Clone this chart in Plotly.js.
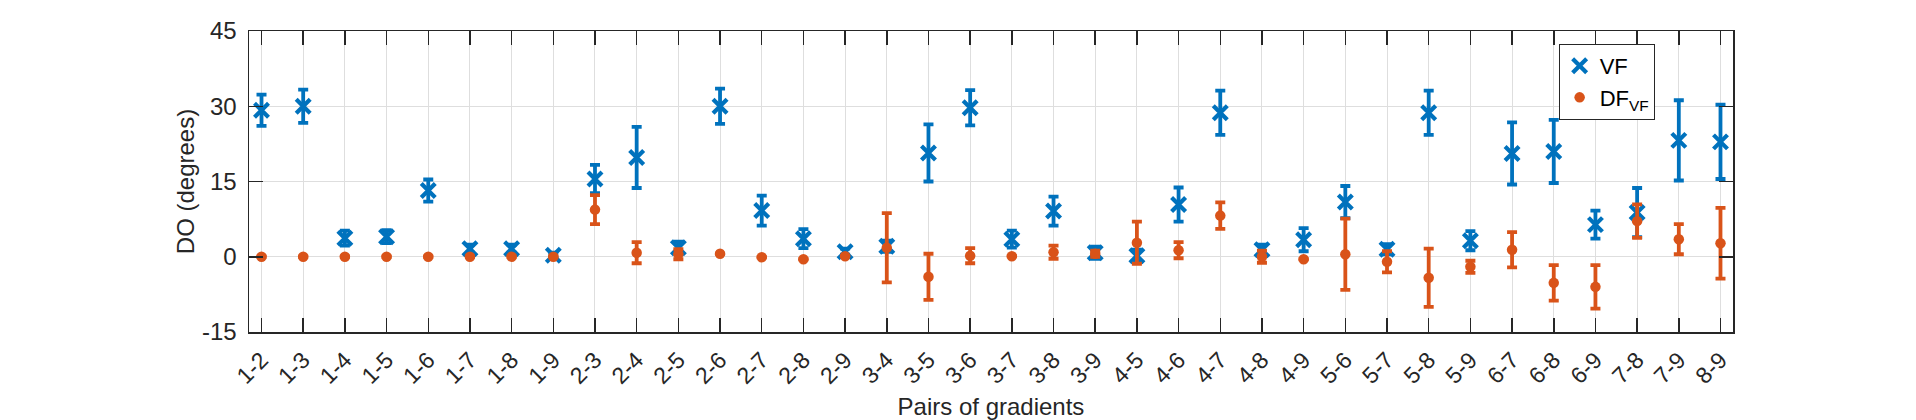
<!DOCTYPE html>
<html>
<head>
<meta charset="utf-8">
<script src="https://cdn.plot.ly/plotly-3.0.1.min.js"></script>
<style>html,body{margin:0;padding:0;background:#fff;}#chart{width:1916px;height:420px;}</style>
</head>
<body>
<div id="chart"></div>
<script>
const categories = ['1-2','1-3','1-4','1-5','1-6','1-7','1-8','1-9','2-3','2-4','2-5','2-6','2-7','2-8','2-9','3-4','3-5','3-6','3-7','3-8','3-9','4-5','4-6','4-7','4-8','4-9','5-6','5-7','5-8','5-9','6-7','6-8','6-9','7-8','7-9','8-9'];
const vfMean = [29.2, 30.0, 3.7, 4.0, 13.2, 1.6, 1.6, 0.3, 15.5, 19.8, 1.8, 30.0, 9.2, 3.6, 1.0, 2.1, 20.7, 29.7, 3.5, 9.1, 0.8, 0.2, 10.4, 28.7, 1.4, 3.4, 10.9, 1.5, 28.7, 3.2, 20.6, 21.0, 6.4, 8.8, 23.2, 22.9];
const vfErr  = [3.1, 3.3, 1.5, 1.3, 2.2, 0.8, 0.8, 0.5, 2.8, 6.1, 1.2, 3.5, 3.0, 1.9, 0.6, 1.1, 5.7, 3.5, 1.7, 2.9, 1.2, 1.2, 3.4, 4.4, 1.0, 2.3, 3.2, 1.0, 4.4, 1.9, 6.2, 6.3, 2.8, 4.9, 8.0, 7.4];
const dfMean = [0, 0, 0, 0, 0, 0, 0, 0, 9.4, 0.8, 0.5, 0.6, -0.1, -0.5, 0.1, 1.8, -4.0, 0.2, 0.1, 0.9, 0.6, 2.8, 1.3, 8.2, 0.0, -0.5, 0.5, -1.0, -4.2, -2.0, 1.4, -5.2, -6.0, 7.1, 3.5, 2.7];
const dfErr  = [0, 0, 0, 0, 0, 0, 0, 0, 2.9, 2.1, 1.0, 0, 0, 0, 0, 6.9, 4.6, 1.5, 0, 1.3, 0.6, 4.2, 1.6, 2.65, 1.2, 0, 7.1, 2.1, 5.8, 1.2, 3.5, 3.55, 4.35, 3.35, 3.0, 7.05];
const yTicks = [-15, 0, 15, 30, 45];
const seriesNames = ['VF', 'DF<sub>VF</sub>'];

const blue = '#0072BD', orange = '#D95319', axisCol = '#262626';
const FONT = 'Liberation Sans, Arial, Helvetica, sans-serif';

const traces = [
  {
    type: 'scatter', mode: 'markers', name: seriesNames[0],
    x: categories, y: vfMean,
    error_y: {type: 'data', array: vfErr, visible: true, color: blue, thickness: 3.8, width: 5},
    marker: {symbol: 'x-thin', size: 14, color: blue, line: {color: blue, width: 4.2}}
  },
  {
    type: 'scatter', mode: 'markers', name: seriesNames[1],
    x: categories, y: dfMean,
    error_y: {type: 'data', array: dfErr, visible: true, color: orange, thickness: 3.8, width: 5},
    marker: {symbol: 'circle', size: 10.5, color: orange, line: {width: 0}}
  }
];

const layout = {
  width: 1916, height: 420,
  margin: {l: 249, r: 183, t: 31, b: 88},
  paper_bgcolor: '#fff', plot_bgcolor: '#fff',
  font: {family: FONT, size: 24, color: axisCol},
  showlegend: true,
  legend: {
    x: 0.8825, y: 0.957, xanchor: 'left', yanchor: 'top',
    bgcolor: '#fff', bordercolor: axisCol, borderwidth: 1,
    font: {family: FONT, size: 22, color: '#000'},
    itemwidth: 30, tracegroupgap: 0
  },
  xaxis: {
    type: 'category', categoryorder: 'array', categoryarray: categories,
    range: [-0.3, 35.3], tickangle: -45,
    showline: true, linecolor: axisCol, linewidth: 1.5, mirror: 'ticks',
    ticks: 'inside', ticklen: 14, tickwidth: 1.5, tickcolor: axisCol,
    showgrid: true, gridcolor: '#dedede', gridwidth: 1,
    tickfont: {family: FONT, size: 23, color: axisCol},
    ticklabelstandoff: 4,
    title: {text: 'Pairs of gradients', font: {family: FONT, size: 24, color: axisCol}, standoff: 12},
    automargin: false
  },
  yaxis: {
    range: [-15, 45], tickvals: yTicks, ticktext: yTicks.map(String),
    showline: true, linecolor: axisCol, linewidth: 1.5, mirror: 'ticks',
    ticks: 'inside', ticklen: 14, tickwidth: 1.5, tickcolor: axisCol,
    showgrid: true, gridcolor: '#dedede', gridwidth: 1, zeroline: false,
    tickfont: {family: FONT, size: 24, color: axisCol},
    ticklabelstandoff: 6,
    title: {text: 'DO (degrees)', font: {family: FONT, size: 24, color: axisCol}, standoff: 0},
    automargin: false
  }
};

Plotly.newPlot('chart', traces, layout, {displayModeBar: false, staticPlot: true});
</script>
</body>
</html>
